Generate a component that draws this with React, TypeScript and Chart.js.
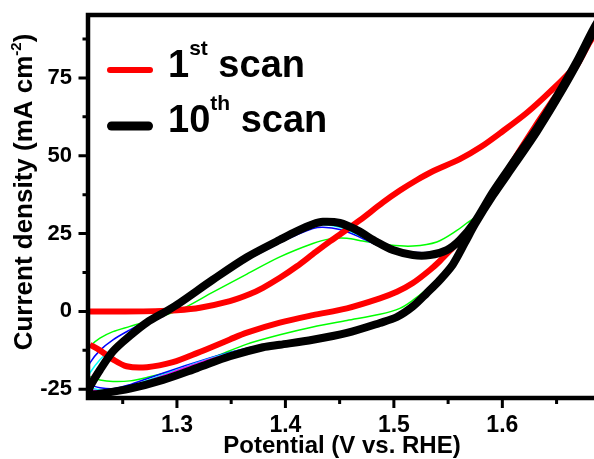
import React, { useEffect, useRef } from "react";
import { Chart, registerables } from "chart.js";

Chart.register(...registerables);

// ---------- data ----------
const xMajorTicks = [1.3, 1.4, 1.5, 1.6];
const xMinorTicks = [1.25, 1.35, 1.45, 1.55, 1.65];
const yMajorTicks = [-25, 0, 25, 50, 75];
const yMinorTicks = [-12.5, 12.5, 37.5, 62.5, 87.5];

const xTitle = "Potential (V vs. RHE)";
const yTitleMain = "Current density (mA cm";
const yTitleSup = "-2";
const yTitleEnd = ")";

const legendNumbers = ["1", "10"];
const legendSuffixes = ["st", "th"];
const legendWord = " scan";

// 1st scan (red)
const scan1Potential = [
  1.218, 1.25, 1.28, 1.3, 1.3212, 1.3488, 1.3673, 1.3793, 1.3949, 1.4106, 1.4253, 1.441, 1.4567, 1.4687,
  1.4899, 1.5055, 1.5212, 1.5359, 1.5608, 1.58, 1.5977, 1.6226, 1.6438, 1.665, 1.6843, 1.695,
  1.6843, 1.6687, 1.6465, 1.63, 1.6115, 1.5931, 1.5774, 1.5654, 1.5544, 1.5424, 1.5332, 1.5175, 1.5028,
  1.4871, 1.4567, 1.4253, 1.3949, 1.3645, 1.3488, 1.3184, 1.2963, 1.2724, 1.2535, 1.241, 1.229, 1.2198,
];
const scan1Current = [
  0, 0, 0.1, 0.4, 1.2, 3.3, 5.6, 7.6, 10.8, 14.5, 18.4, 22.5, 26.3, 29.3,
  35.0, 38.8, 42.2, 45.0, 48.9, 52.8, 57.2, 63.8, 70.5, 78.0, 88.5, 93.5,
  88.8, 79.0, 67.8, 59.3, 49.2, 38.4, 29.6, 24.5, 20.5, 16.2, 13.3, 9.1, 6.3,
  4.2, 1.0, -1.2, -3.6, -6.8, -9.0, -13.4, -16.3, -17.9, -17.6, -15.4, -12.5, -10.7,
];

// 10th scan (black)
const scan10Potential = [
  1.218, 1.2198, 1.229, 1.241, 1.2567, 1.2724, 1.2908, 1.3028, 1.3332, 1.3645, 1.3949, 1.4106, 1.4253,
  1.4346, 1.4502, 1.4659, 1.4843, 1.4991, 1.5175, 1.5332, 1.5488, 1.5608, 1.5747, 1.5912, 1.6115, 1.6318,
  1.6502, 1.6687, 1.6843, 1.695,
  1.6843, 1.6687, 1.6502, 1.6318, 1.6115, 1.5912, 1.5747, 1.5654, 1.5544, 1.5424, 1.5304, 1.5175, 1.5028,
  1.4871, 1.4567, 1.4253, 1.3949, 1.3793, 1.3488, 1.3184, 1.2871, 1.2567, 1.229, 1.218,
];
const scan10Current = [
  -26.8, -24.2, -18.8, -12.8, -7.8, -3.5, 0.2, 2.8, 10.2, 17.4, 23.0, 25.8, 28.0,
  28.8, 28.4, 26.1, 22.3, 19.7, 18.1, 18.1, 19.7, 22.9, 28.8, 38.3, 48.6, 58.8,
  69.1, 80.3, 90.9, 97,
  90.2, 79.5, 68.2, 57.8, 47.4, 37.2, 28.0, 22.0, 15.1, 10.1, 5.9, 1.6, -1.8,
  -3.7, -6.9, -9.1, -10.7, -11.5, -14.4, -18.2, -22.0, -24.8, -26.4, -26.8,
];

// intermediate scans (thin lines)
const scanGreenPotential = [
  1.218, 1.2198, 1.229, 1.241, 1.2567, 1.2724, 1.3028, 1.3332, 1.3645, 1.3949, 1.4253, 1.441, 1.4567,
  1.4714, 1.4963, 1.5175, 1.5396, 1.5581, 1.5673, 1.5793, 1.5912, 1.6115, 1.6318, 1.6502, 1.6687, 1.6843, 1.695,
  1.6843, 1.6687, 1.6502, 1.6318, 1.6115, 1.5912, 1.5747, 1.5654, 1.5544, 1.5424, 1.5304, 1.5175, 1.5055,
  1.4871, 1.4567, 1.4253, 1.3949, 1.3645, 1.3332, 1.3028, 1.2724, 1.2567, 1.241, 1.229, 1.2198,
];
const scanGreenCurrent = [
  -12.5, -11.2, -8.6, -6.5, -4.8, -3.1, 0.5, 6.2, 12.0, 17.5, 21.8, 23.3, 23.5,
  22.6, 21.3, 21.0, 22.3, 26.0, 28.4, 31.5, 37.5, 48.0, 58.3, 68.7, 80.0, 90.5, 96,
  89.6, 79.1, 67.9, 57.5, 47.1, 36.9, 27.6, 21.8, 15.9, 11.2, 7.2, 3.6, 1.0,
  -0.9, -2.9, -5.0, -7.5, -10.5, -14.8, -18.5, -21.2, -22.3, -22.5, -22.0, -21.0,
];

const scanBluePotential = [
  1.218, 1.2198, 1.229, 1.241, 1.2567, 1.2724, 1.2908, 1.3028, 1.3332, 1.3645, 1.3949, 1.4106, 1.4253,
  1.4346, 1.4502, 1.4659, 1.4843, 1.4991, 1.5175, 1.5332, 1.5488, 1.5608, 1.5728, 1.5912, 1.6115, 1.6318,
  1.6502, 1.6687, 1.6843, 1.695,
  1.6843, 1.6687, 1.6502, 1.6318, 1.6115, 1.5912, 1.5747, 1.5654, 1.5544, 1.5424, 1.5304, 1.5175, 1.5028,
  1.4871, 1.4567, 1.4253, 1.3949, 1.3645, 1.3332, 1.3028, 1.2724, 1.2567, 1.241, 1.229, 1.2198,
];
const scanBlueCurrent = [
  -18.5, -16.5, -12.5, -9.1, -5.9, -3.0, 0.0, 2.4, 9.5, 16.5, 22.0, 24.6, 26.6,
  27.0, 26.3, 24.3, 21.3, 19.7, 19.0, 19.0, 20.5, 23.5, 27.5, 37.8, 48.2, 58.4,
  68.7, 80.0, 90.5, 95,
  89.8, 79.3, 68.0, 57.6, 47.2, 37.0, 27.8, 22.0, 15.4, 10.5, 6.3, 1.9, -1.3,
  -3.2, -6.3, -8.3, -10.0, -11.8, -14.6, -18.0, -21.6, -23.5, -24.8, -24.5, -23.6,
];

const scanCyanPotential = [
  1.218, 1.2198, 1.229, 1.241, 1.2567, 1.2724, 1.2908, 1.3028, 1.3332, 1.3645, 1.3949, 1.4106, 1.4253,
  1.4346, 1.4502, 1.4659, 1.4843, 1.4991, 1.5175, 1.5332, 1.5488, 1.5608, 1.5728, 1.5912, 1.6115, 1.6318,
  1.6502, 1.6687, 1.6843, 1.695,
  1.6843, 1.6687, 1.6502, 1.6318, 1.6115, 1.5912, 1.5747, 1.5654, 1.5544, 1.5424, 1.5304, 1.5175, 1.5028,
  1.4871, 1.4567, 1.4253, 1.3949, 1.3645, 1.3332, 1.3028, 1.2724, 1.2567, 1.241, 1.229, 1.2198,
];
const scanCyanCurrent = [
  -21.5, -19.7, -15.5, -11.7, -7.3, -3.5, -0.2, 2.4, 9.9, 17.0, 22.5, 25.3, 27.3,
  27.8, 27.0, 24.8, 21.6, 19.5, 18.6, 18.6, 20.2, 23.3, 27.4, 37.9, 48.3, 58.5,
  68.8, 80.1, 90.6, 95,
  89.9, 79.4, 68.1, 57.7, 47.3, 37.1, 27.9, 22.0, 15.2, 10.3, 6.1, 1.8, -1.5,
  -3.4, -6.6, -8.7, -10.4, -12.0, -14.8, -18.4, -22.2, -24.2, -25.3, -25.2, -24.5,
];

const scanMagentaPotential = [
  1.218, 1.2198, 1.229, 1.241, 1.2567, 1.2724, 1.2908, 1.3028, 1.3332, 1.3645, 1.3949, 1.4106, 1.4253,
  1.4346, 1.4502, 1.4659, 1.4843, 1.4991, 1.5175, 1.5332, 1.5488, 1.5608, 1.5728, 1.5912, 1.6115, 1.6318,
  1.6502, 1.6687, 1.6843, 1.695,
  1.6843, 1.6687, 1.6502, 1.6318, 1.6115, 1.5912, 1.5747, 1.5654, 1.5544, 1.5424, 1.5304, 1.5175, 1.5028,
  1.4871, 1.4567, 1.4253, 1.3949, 1.3645, 1.3332, 1.3028, 1.2724, 1.2567, 1.241, 1.229, 1.2198,
];
const scanMagentaCurrent = [
  -24.0, -21.9, -17.8, -12.5, -7.6, -3.6, 0.0, 2.6, 10.0, 17.2, 22.7, 25.5, 27.6,
  28.2, 27.6, 25.3, 21.9, 19.5, 18.3, 18.3, 19.9, 23.0, 27.2, 38.0, 48.4, 58.6,
  68.9, 80.2, 90.7, 95,
  90.0, 79.4, 68.1, 57.7, 47.3, 37.1, 27.9, 22.0, 15.1, 10.2, 6.0, 1.7, -1.6,
  -3.5, -6.7, -8.9, -10.5, -12.2, -15.0, -18.6, -22.5, -24.5, -25.6, -25.6, -25.2,
];

// ---------- helpers ----------
const FONT = '"Liberation Sans", Arial, Helvetica, sans-serif';

function toPoints(xs: number[], ys: number[]) {
  return xs.map((x, i) => ({ x, y: ys[i] }));
}

const decorPlugin = {
  id: "decor",
  afterDraw(chart: any) {
    const { ctx, chartArea: a, scales } = chart;
    const xs = scales.x;
    const ys = scales.y;
    ctx.save();
    ctx.strokeStyle = "#000";
    ctx.fillStyle = "#000";

    // tick marks
    ctx.lineCap = "butt";
    ctx.lineWidth = 3;
    ctx.beginPath();
    yMajorTicks.forEach((v) => {
      const p = ys.getPixelForValue(v);
      ctx.moveTo(a.left - 9.5, p);
      ctx.lineTo(a.left, p);
    });
    yMinorTicks.forEach((v) => {
      const p = ys.getPixelForValue(v);
      ctx.moveTo(a.left - 5.5, p);
      ctx.lineTo(a.left, p);
    });
    xMajorTicks.forEach((v) => {
      const p = xs.getPixelForValue(v);
      ctx.moveTo(p, a.bottom);
      ctx.lineTo(p, a.bottom + 10);
    });
    xMinorTicks.forEach((v) => {
      const p = xs.getPixelForValue(v);
      ctx.moveTo(p, a.bottom);
      ctx.lineTo(p, a.bottom + 6);
    });
    ctx.stroke();

    // frame (left, top, bottom)
    ctx.lineWidth = 4.5;
    ctx.lineJoin = "miter";
    ctx.beginPath();
    ctx.moveTo(a.right + 10, a.top);
    ctx.lineTo(a.left, a.top);
    ctx.lineTo(a.left, a.bottom);
    ctx.lineTo(a.right + 10, a.bottom);
    ctx.stroke();

    // x title
    ctx.font = `bold 24px ${FONT}`;
    ctx.textAlign = "center";
    ctx.textBaseline = "alphabetic";
    ctx.fillText(xTitle, 342, 453);

    // y title (rotated, with superscript)
    const mainFont = `bold 26px ${FONT}`;
    const supFont = `bold 15px ${FONT}`;
    ctx.font = mainFont;
    const w1 = ctx.measureText(yTitleMain).width;
    const w3 = ctx.measureText(yTitleEnd).width;
    ctx.font = supFont;
    const w2 = ctx.measureText(yTitleSup).width;
    const total = w1 + w2 + w3;
    ctx.save();
    ctx.translate(32, 192 + total / 2);
    ctx.rotate(-Math.PI / 2);
    ctx.textAlign = "left";
    ctx.font = mainFont;
    ctx.fillText(yTitleMain, 0, 0);
    ctx.font = supFont;
    ctx.fillText(yTitleSup, w1, -11);
    ctx.font = mainFont;
    ctx.fillText(yTitleEnd, w1 + w2, 0);
    ctx.restore();

    // legend
    const legendColors = ["#ff0000", "#000000"];
    const legendWidths = [6, 9];
    const legendY = [70, 126];
    const baseY = [77, 132];
    ctx.lineCap = "round";
    for (let i = 0; i < 2; i++) {
      ctx.strokeStyle = legendColors[i];
      ctx.lineWidth = legendWidths[i];
      ctx.beginPath();
      ctx.moveTo(107 + legendWidths[i] / 2, legendY[i]);
      ctx.lineTo(153 - legendWidths[i] / 2, legendY[i]);
      ctx.stroke();

      ctx.textAlign = "left";
      ctx.fillStyle = "#000";
      let x = 168;
      ctx.font = `bold 38px ${FONT}`;
      ctx.fillText(legendNumbers[i], x, baseY[i]);
      x += ctx.measureText(legendNumbers[i]).width;
      ctx.font = `bold 21px ${FONT}`;
      ctx.fillText(legendSuffixes[i], x, baseY[i] - 22);
      x += ctx.measureText(legendSuffixes[i]).width;
      ctx.font = `bold 38px ${FONT}`;
      ctx.fillText(legendWord, x, baseY[i]);
    }
    ctx.restore();
  },
};

export default function App() {
  const canvasRef = useRef<HTMLCanvasElement | null>(null);

  useEffect(() => {
    const canvas = canvasRef.current;
    if (!canvas) return;

    const thin = (label: string, xs: number[], ys: number[], color: string, order: number) => ({
      label,
      data: toPoints(xs, ys),
      showLine: true,
      borderColor: color,
      backgroundColor: color,
      borderWidth: 1.5,
      pointRadius: 0,
      tension: 0.3,
      order,
      borderJoinStyle: "round",
    });

    const chart = new Chart(canvas, {
      type: "scatter",
      data: {
        datasets: [
          {
            label: "10th scan",
            data: toPoints(scan10Potential, scan10Current),
            showLine: true,
            borderColor: "#000000",
            backgroundColor: "#000000",
            borderWidth: 8,
            pointRadius: 0,
            tension: 0.3,
            order: 0,
            borderJoinStyle: "round",
            borderCapStyle: "round",
          },
          {
            label: "1st scan",
            data: toPoints(scan1Potential, scan1Current),
            showLine: true,
            borderColor: "#ff0000",
            backgroundColor: "#ff0000",
            borderWidth: 6,
            pointRadius: 0,
            tension: 0.3,
            order: 1,
            borderJoinStyle: "round",
          },
          thin("scan m", scanMagentaPotential, scanMagentaCurrent, "#ff00ff", 2),
          thin("scan c", scanCyanPotential, scanCyanCurrent, "#00ffff", 3),
          thin("scan b", scanBluePotential, scanBlueCurrent, "#0000ff", 4),
          thin("scan g", scanGreenPotential, scanGreenCurrent, "#00ff00", 5),
        ] as any,
      },
      options: {
        animation: false,
        responsive: false,
        maintainAspectRatio: false,
        devicePixelRatio: 1,
        layout: { padding: { top: 15, right: 0, bottom: 0, left: 0 } },
        plugins: { legend: { display: false }, tooltip: { enabled: false } },
        scales: {
          x: {
            type: "linear",
            min: 1.218,
            max: 1.6845,
            afterBuildTicks: (s: any) => {
              s.ticks = xMajorTicks.map((v) => ({ value: v }));
            },
            afterFit: (s: any) => {
              s.height = 61;
              s.paddingLeft = 0;
              s.paddingRight = 0;
            },
            grid: { display: false, drawTicks: false },
            border: { display: false },
            ticks: {
              color: "#000",
              padding: 14,
              autoSkip: false,
              maxRotation: 0,
              font: { family: FONT, size: 23, weight: "bold" },
              callback: (v: any) => Number(v).toFixed(1),
            },
          },
          y: {
            type: "linear",
            min: -27.8,
            max: 95.2,
            afterBuildTicks: (s: any) => {
              s.ticks = yMajorTicks.map((v) => ({ value: v }));
            },
            afterFit: (s: any) => {
              s.width = 88;
              s.paddingTop = 0;
              s.paddingBottom = 0;
            },
            grid: { display: false, drawTicks: false },
            border: { display: false },
            ticks: {
              color: "#000",
              padding: 16,
              autoSkip: false,
              font: { family: FONT, size: 22, weight: "bold" },
              callback: (v: any) => String(v),
            },
          },
        },
      } as any,
      plugins: [decorPlugin],
    });

    return () => chart.destroy();
  }, []);

  return (
    <div style={{ position: "fixed", left: 0, top: 0, width: 594, height: 459, background: "#fff", overflow: "hidden" }}>
      <canvas ref={canvasRef} width={594} height={459} style={{ display: "block", width: 594, height: 459 }} />
    </div>
  );
}
